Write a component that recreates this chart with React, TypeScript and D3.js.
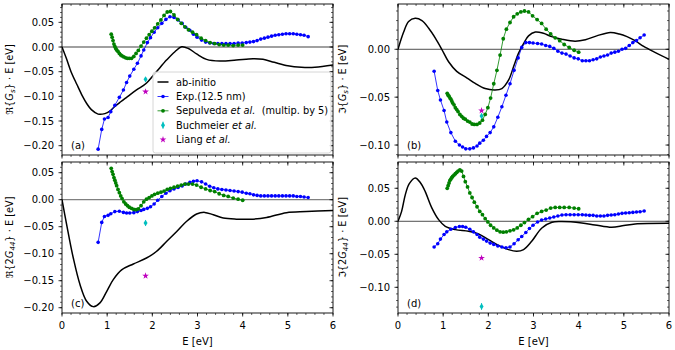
import React from "react";
import * as d3 from "d3";

// ---------- data ----------
const E_EXP = [0.80,0.88,0.94,1.02,1.08,1.17,1.27,1.36,1.43,1.50,1.59,1.67,1.75,1.81,1.89,1.96,2.04,2.12,2.21,2.30,2.39,2.48,2.57,2.66,2.74,2.83,2.91,2.99,3.09,3.18,3.27,3.36,3.45,3.54,3.63,3.72,3.81,3.90,3.99,4.08,4.16,4.24,4.32,4.40,4.48,4.56,4.64,4.72,4.80,4.88,4.96,5.04,5.12,5.20,5.28,5.36,5.45];
const EXP_RE_GS = [-0.207,-0.167,-0.146,-0.143,-0.131,-0.118,-0.102,-0.087,-0.072,-0.059,-0.045,-0.033,-0.018,-0.006,0.009,0.019,0.030,0.039,0.048,0.056,0.0615,0.060,0.055,0.048,0.040,0.034,0.026,0.020,0.014,0.010,0.008,0.007,0.007,0.007,0.007,0.007,0.007,0.008,0.008,0.009,0.010,0.011,0.013,0.016,0.018,0.020,0.022,0.024,0.025,0.026,0.027,0.027,0.027,0.026,0.025,0.024,0.021];
const EXP_IM_GS = [-0.023,-0.043,-0.053,-0.064,-0.076,-0.087,-0.096,-0.100,-0.102,-0.104,-0.104,-0.103,-0.101,-0.098,-0.095,-0.091,-0.087,-0.081,-0.071,-0.060,-0.048,-0.036,-0.022,-0.009,0.002,0.007,0.007,0.0065,0.006,0.0055,0.004,0.003,0.001,-0.002,-0.004,-0.005,-0.007,-0.009,-0.010,-0.012,-0.012,-0.012,-0.011,-0.010,-0.008,-0.007,-0.006,-0.004,-0.003,-0.002,0.000,0.001,0.004,0.007,0.009,0.012,0.015];
const EXP_RE_G44 = [-0.079,-0.042,-0.031,-0.029,-0.026,-0.022,-0.0215,-0.0235,-0.0245,-0.0245,-0.024,-0.022,-0.020,-0.018,-0.016,-0.013,-0.008,-0.001,0.006,0.012,0.0165,0.020,0.0225,0.0255,0.029,0.032,0.034,0.035,0.033,0.029,0.025,0.022,0.020,0.019,0.018,0.017,0.016,0.015,0.014,0.012,0.011,0.009,0.008,0.007,0.007,0.007,0.007,0.007,0.007,0.007,0.007,0.007,0.007,0.006,0.006,0.005,0.004];
const EXP_IM_G44 = [-0.039,-0.034,-0.027,-0.020,-0.016,-0.012,-0.0095,-0.008,-0.008,-0.009,-0.012,-0.016,-0.020,-0.024,-0.027,-0.030,-0.033,-0.035,-0.0375,-0.039,-0.040,-0.039,-0.034,-0.028,-0.023,-0.017,-0.011,-0.006,-0.001,0.002,0.0035,0.005,0.0065,0.008,0.0095,0.010,0.010,0.010,0.010,0.010,0.0095,0.009,0.009,0.008,0.008,0.008,0.009,0.0095,0.010,0.011,0.012,0.0125,0.013,0.0135,0.014,0.0145,0.0155];

const E_SEP = [1.09,1.11,1.13,1.15,1.17,1.19,1.21,1.24,1.27,1.30,1.33,1.37,1.41,1.45,1.49,1.54,1.59,1.64,1.69,1.75,1.81,1.87,1.93,1.99,2.05,2.12,2.19,2.26,2.33,2.40,2.48,2.56,2.64,2.72,2.80,2.89,2.98,3.08,3.18,3.28,3.38,3.48,3.58,3.68,3.79,3.90,4.00];
const SEP_RE_GS = [0.026,0.020,0.013,0.006,0.001,-0.003,-0.006,-0.009,-0.013,-0.016,-0.018,-0.020,-0.022,-0.023,-0.023,-0.023,-0.019,-0.013,-0.007,0.002,0.010,0.018,0.025,0.032,0.039,0.047,0.055,0.064,0.071,0.072,0.065,0.056,0.048,0.041,0.035,0.030,0.025,0.018,0.013,0.009,0.007,0.005,0.004,0.004,0.003,0.004,0.004];
const SEP_IM_GS = [-0.046,-0.048,-0.049,-0.051,-0.052,-0.054,-0.056,-0.058,-0.061,-0.063,-0.065,-0.068,-0.070,-0.072,-0.073,-0.075,-0.076,-0.078,-0.0785,-0.0785,-0.077,-0.074,-0.068,-0.061,-0.051,-0.036,-0.022,-0.006,0.011,0.021,0.028,0.034,0.037,0.039,0.040,0.039,0.035,0.031,0.027,0.021,0.016,0.012,0.009,0.005,0.002,-0.001,-0.003];
const SEP_RE_G44 = [0.058,0.052,0.047,0.041,0.036,0.031,0.026,0.019,0.013,0.007,0.002,-0.004,-0.008,-0.011,-0.014,-0.016,-0.018,-0.0185,-0.017,-0.011,-0.004,0.001,0.004,0.007,0.010,0.012,0.014,0.016,0.019,0.021,0.023,0.025,0.027,0.029,0.029,0.029,0.027,0.023,0.020,0.017,0.015,0.011,0.008,0.006,0.003,0.001,-0.001];
const SEP_IM_G44 = [0.050,0.054,0.058,0.062,0.064,0.066,0.068,0.070,0.072,0.074,0.076,0.078,0.076,0.068,0.060,0.052,0.043,0.036,0.029,0.022,0.015,0.010,0.004,-0.001,-0.006,-0.010,-0.0135,-0.016,-0.0165,-0.016,-0.0145,-0.013,-0.010,-0.006,-0.002,0.003,0.007,0.012,0.015,0.017,0.020,0.021,0.021,0.021,0.021,0.020,0.019];

const E_ABI_RE_GS = [0,0.1,0.2,0.33,0.45,0.55,0.65,0.8,0.95,1.06,1.15,1.3,1.43,1.65,1.86,2.09,2.32,2.5,2.65,2.8,2.98,3.2,3.5,3.86,4.23,4.45,4.7,5.0,5.3,5.6,6.0];
const ABI_RE_GS = [0,-0.024,-0.05,-0.076,-0.099,-0.115,-0.127,-0.136,-0.135,-0.130,-0.122,-0.111,-0.102,-0.087,-0.074,-0.050,-0.026,-0.0095,0.0005,-0.003,-0.014,-0.025,-0.0285,-0.0265,-0.024,-0.025,-0.031,-0.038,-0.041,-0.041,-0.0365];
const E_ABI_IM_GS = [0,0.125,0.235,0.38,0.53,0.68,0.83,0.97,1.12,1.3,1.53,1.71,1.93,2.15,2.3,2.45,2.56,2.67,2.78,2.89,3.04,3.22,3.4,3.63,3.92,4.15,4.4,4.7,4.9,5.07,5.25,5.44,5.7,6.0];
const ABI_IM_GS = [0,0.018,0.029,0.0324,0.030,0.022,0.0115,0,-0.013,-0.023,-0.030,-0.0356,-0.041,-0.0425,-0.041,-0.032,-0.018,-0.004,0.006,0.014,0.018,0.0167,0.0132,0.0105,0.0085,0.0100,0.014,0.0176,0.0160,0.0132,0.009,0.003,-0.0035,-0.0105];
const E_ABI_RE_G44 = [0,0.103,0.25,0.398,0.546,0.693,0.84,0.988,1.135,1.32,1.58,1.87,2.09,2.32,2.54,2.76,2.98,3.16,3.35,3.57,3.86,4.23,4.53,4.97,5.41,6.0];
const ABI_RE_G44 = [0,-0.046,-0.108,-0.157,-0.188,-0.198,-0.191,-0.170,-0.148,-0.130,-0.119,-0.108,-0.096,-0.077,-0.059,-0.040,-0.0265,-0.0235,-0.028,-0.034,-0.036,-0.036,-0.033,-0.024,-0.022,-0.020];
const E_ABI_IM_G44 = [0,0.08,0.161,0.25,0.383,0.5,0.603,0.751,0.899,1.047,1.27,1.563,1.784,2.005,2.226,2.447,2.63,2.78,2.96,3.185,3.41,3.63,4.07,4.36,4.73,5.0,5.25,6.0];
const ABI_IM_G44 = [0,0.015,0.040,0.057,0.0656,0.058,0.045,0.020,0.0025,-0.0076,-0.0126,-0.0151,-0.0192,-0.0278,-0.0364,-0.0429,-0.0455,-0.0429,-0.0303,-0.0101,-0.0015,-0.0005,-0.0025,-0.0055,-0.0091,-0.0065,-0.004,-0.003];

const E_REF = 1.85;
const BUCH = [-0.0655, -0.0697, -0.0432, -0.129];
const BUCH_ERR = [0.004, 0.0025, 0.005, 0.005];
const LIANG = [-0.0906, -0.064, -0.141, -0.0556];

const X_TICKS = [0, 1, 2, 3, 4, 5, 6];
const LEGEND_LABELS = ["ab-initio", "Exp.(12.5 nm)", "Sepulveda", "Buchmeier", "Liang"];

// ---------- layout ----------
const FONT = "DejaVu Sans";
const BLUE = "#0000ff";
const GREEN = "#008000";
const CYAN = "#00bfbf";
const MAG = "#bf00bf";

const PANELS = [
  { key: "a", x0: 62, x1: 333, y0: 4, y1: 155, dom: [-0.2189, 0.0872], abiE: E_ABI_RE_GS, abi: ABI_RE_GS, exp: EXP_RE_GS, sep: SEP_RE_GS, zero: "#808080", zw: 1.3, lab: ["ℜ{", "s", "}"], lx: 9, xl: false, idx: 0 },
  { key: "b", x0: 398, x1: 669, y0: 4, y1: 155, dom: [-0.1104, 0.0473], abiE: E_ABI_IM_GS, abi: ABI_IM_GS, exp: EXP_IM_GS, sep: SEP_IM_GS, zero: "#222", zw: 0.8, lab: ["ℑ{", "s", "}"], lx: 342, xl: false, idx: 1 },
  { key: "c", x0: 62, x1: 333, y0: 162, y1: 313, dom: [-0.2098, 0.0698], abiE: E_ABI_RE_G44, abi: ABI_RE_G44, exp: EXP_RE_G44, sep: SEP_RE_G44, zero: "#808080", zw: 1.3, lab: ["ℜ{2", "44", "}"], lx: 9, xl: true, idx: 2 },
  { key: "d", x0: 398, x1: 669, y0: 162, y1: 313, dom: [-0.1389, 0.0898], abiE: E_ABI_IM_G44, abi: ABI_IM_G44, exp: EXP_IM_G44, sep: SEP_IM_G44, zero: "#222", zw: 0.8, lab: ["ℑ{2", "44", "}"], lx: 342, xl: true, idx: 3 },
];

const fmt = (v: number) => (v < -1e-9 ? "\u2212" : "") + Math.abs(v).toFixed(2);
const diamond = (cx: number, cy: number) => `M${cx},${cy - 3.2}L${cx + 2},${cy}L${cx},${cy + 3.2}L${cx - 2},${cy}Z`;
const starPath = d3.symbol(d3.symbolStar, 14)() as string;

function Panel({ p }: { p: any }) {
  const xs = d3.scaleLinear().domain([0, 6]).range([p.x0, p.x1]);
  const ys = d3.scaleLinear().domain(p.dom).range([p.y1, p.y0]);
  const abiLine = d3.line<number>().x((_, i) => xs(p.abiE[i])).y((d) => ys(d)).curve(d3.curveCatmullRom.alpha(0.5));
  const expLine = d3.line<number>().x((_, i) => xs(E_EXP[i])).y((d) => ys(d));
  const sepLine = d3.line<number>().x((_, i) => xs(E_SEP[i])).y((d) => ys(d));
  const yMajor = d3.range(-0.25, 0.1001, 0.05).map((v) => Math.round(v * 100) / 100).filter((v) => v >= p.dom[0] && v <= p.dom[1]);
  const yMinor = d3.range(-0.25, 0.1001, 0.01).map((v) => Math.round(v * 100) / 100).filter((v) => v >= p.dom[0] && v <= p.dom[1]);
  const xMinor = d3.range(0, 6.001, 0.2).map((v) => Math.round(v * 10) / 10);
  const clip = `clip-${p.key}`;
  const bx = xs(E_REF);
  const cy = (p.y0 + p.y1) / 2;
  return (
    <g>
      <defs>
        <clipPath id={clip}>
          <rect x={p.x0} y={p.y0} width={p.x1 - p.x0} height={p.y1 - p.y0} />
        </clipPath>
      </defs>
      <g clipPath={`url(#${clip})`}>
        <line x1={p.x0} x2={p.x1} y1={ys(0)} y2={ys(0)} stroke={p.zero} strokeWidth={p.zw} />
        <path d={abiLine(p.abi) as string} fill="none" stroke="#000" strokeWidth={1.5} />
        <path d={expLine(p.exp) as string} fill="none" stroke={BLUE} strokeWidth={0.8} />
        {p.exp.map((v: number, i: number) => (
          <circle key={"e" + i} cx={xs(E_EXP[i])} cy={ys(v)} r={1.8} fill={BLUE} />
        ))}
        <path d={sepLine(p.sep) as string} fill="none" stroke={GREEN} strokeWidth={0.8} />
        {p.sep.map((v: number, i: number) => (
          <circle key={"s" + i} cx={xs(E_SEP[i])} cy={ys(v)} r={1.9} fill={GREEN} />
        ))}
        <line x1={bx} x2={bx} y1={ys(BUCH[p.idx] - BUCH_ERR[p.idx])} y2={ys(BUCH[p.idx] + BUCH_ERR[p.idx])} stroke={CYAN} strokeWidth={1} />
        <path d={diamond(bx, ys(BUCH[p.idx]))} fill={CYAN} />
        <path d={starPath} transform={`translate(${bx},${ys(LIANG[p.idx])})`} fill={MAG} />
      </g>
      <rect x={p.x0} y={p.y0} width={p.x1 - p.x0} height={p.y1 - p.y0} fill="none" stroke="#000" strokeWidth={0.9} />
      {yMinor.map((v: number) => (
        <g key={"ym" + v}>
          <line x1={p.x0 - 2} x2={p.x0} y1={ys(v)} y2={ys(v)} stroke="#000" strokeWidth={0.6} />
          <line x1={p.x1 - 2} x2={p.x1} y1={ys(v)} y2={ys(v)} stroke="#000" strokeWidth={0.6} />
        </g>
      ))}
      {yMajor.map((v: number) => (
        <g key={"yM" + v}>
          <line x1={p.x0 - 3.5} x2={p.x0} y1={ys(v)} y2={ys(v)} stroke="#000" strokeWidth={0.8} />
          <line x1={p.x1 - 3.5} x2={p.x1} y1={ys(v)} y2={ys(v)} stroke="#000" strokeWidth={0.8} />
          <text x={p.x0 - 8} y={ys(v) + 3.5} textAnchor="end" fontSize={10} fontFamily={FONT}>{fmt(v)}</text>
        </g>
      ))}
      {xMinor.map((v: number) => (
        <g key={"xm" + v}>
          <line x1={xs(v)} x2={xs(v)} y1={p.y1} y2={p.y1 + 2} stroke="#000" strokeWidth={0.6} />
          <line x1={xs(v)} x2={xs(v)} y1={p.y0} y2={p.y0 + 2} stroke="#000" strokeWidth={0.6} />
        </g>
      ))}
      {X_TICKS.map((v) => (
        <g key={"xM" + v}>
          <line x1={xs(v)} x2={xs(v)} y1={p.y1} y2={p.y1 + 3.5} stroke="#000" strokeWidth={0.8} />
          <line x1={xs(v)} x2={xs(v)} y1={p.y0} y2={p.y0 + 3.5} stroke="#000" strokeWidth={0.8} />
          {p.xl && (
            <text x={xs(v)} y={p.y1 + 16} textAnchor="middle" fontSize={10} fontFamily={FONT}>{v}</text>
          )}
        </g>
      ))}
      {p.xl && (
        <text x={(p.x0 + p.x1) / 2} y={p.y1 + 32} textAnchor="middle" fontSize={10} fontFamily={FONT}>E [eV]</text>
      )}
      <text transform={`translate(${p.lx},${cy}) rotate(-90)`} textAnchor="middle" fontSize={9.8} fontFamily={FONT} dy={3.5}>
        <tspan>{p.lab[0]}</tspan>
        <tspan fontStyle="italic">G</tspan>
        <tspan fontStyle="italic" fontSize={7} dy={2}>{p.lab[1]}</tspan>
        <tspan dy={-2}>{p.lab[2]} · E [eV]</tspan>
      </text>
      <text x={p.x0 + 9} y={p.y1 - 6} fontSize={10} fontFamily={FONT}>({p.key})</text>
    </g>
  );
}

function Legend() {
  const x0 = 153, y0 = 72, w = 178, h = 81;
  const rows = [82, 96.5, 110.8, 125.2, 139.6];
  const hx0 = 157.5, hx1 = 168.5, hc = 163, tx = 176;
  return (
    <g fontFamily={FONT} fontSize={9.8}>
      <rect x={x0} y={y0} width={w} height={h} rx={2.5} fill="#fff" fillOpacity={0.8} stroke="#cccccc" strokeWidth={0.8} />
      <line x1={hx0} x2={hx1} y1={rows[0]} y2={rows[0]} stroke="#000" strokeWidth={1.5} />
      <line x1={hx0} x2={hx1} y1={rows[1]} y2={rows[1]} stroke={BLUE} strokeWidth={0.8} />
      <circle cx={hc} cy={rows[1]} r={1.8} fill={BLUE} />
      <line x1={hx0} x2={hx1} y1={rows[2]} y2={rows[2]} stroke={GREEN} strokeWidth={0.8} />
      <circle cx={hc} cy={rows[2]} r={1.9} fill={GREEN} />
      <line x1={hc} x2={hc} y1={rows[3] - 3.5} y2={rows[3] + 3.5} stroke={CYAN} strokeWidth={1} />
      <path d={diamond(hc, rows[3])} fill={CYAN} />
      <path d={starPath} transform={`translate(${hc},${rows[4]})`} fill={MAG} />
      <text x={tx} y={rows[0] + 3.5}>{LEGEND_LABELS[0]}</text>
      <text x={tx} y={rows[1] + 3.5}>{LEGEND_LABELS[1]}</text>
      <text x={tx} y={rows[2] + 3.5}>
        {LEGEND_LABELS[2]} <tspan fontStyle="italic">et al.</tspan>{"\u00a0\u00a0(multip. by 5)"}
      </text>
      <text x={tx} y={rows[3] + 3.5}>
        {LEGEND_LABELS[3]} <tspan fontStyle="italic">et al.</tspan>
      </text>
      <text x={tx} y={rows[4] + 3.5}>
        {LEGEND_LABELS[4]} <tspan fontStyle="italic">et al.</tspan>
      </text>
    </g>
  );
}

export default function App() {
  return (
    <svg width={675} height={350} viewBox="0 0 675 350" style={{ display: "block", position: "absolute", left: 0, top: 0, background: "#fff" }}>
      <rect x={0} y={0} width={675} height={350} fill="#fff" />
      {PANELS.map((p) => (
        <Panel key={p.key} p={p} />
      ))}
      <Legend />
    </svg>
  );
}
